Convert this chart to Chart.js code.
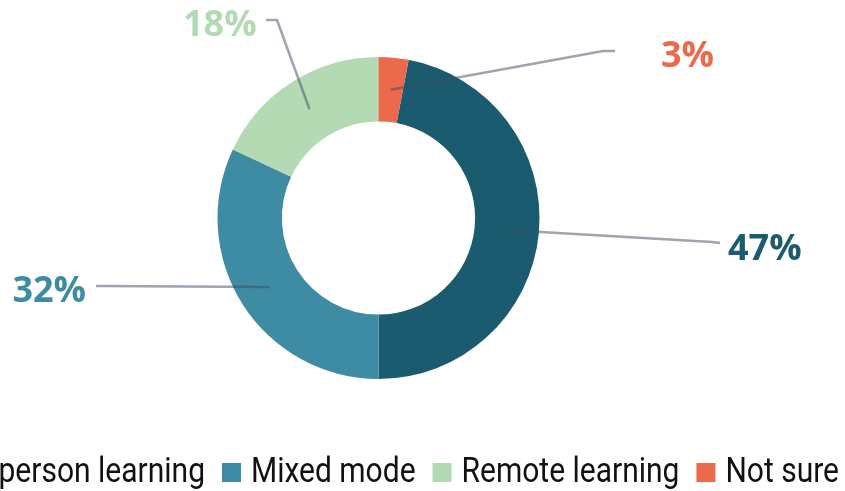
<!DOCTYPE html>
<html>
<head>
<meta charset="utf-8">
<script src="https://cdn.jsdelivr.net/npm/chart.js@4"></script>
<style>
  html, body { margin: 0; padding: 0; background: #ffffff; }
  #wrap { width: 845px; height: 491px; position: relative; }
</style>
</head>
<body>
<div id="wrap"><canvas id="c" width="845" height="491"></canvas></div>
<script>
// ---- data ----
const categories = ['In-person learning', 'Mixed mode', 'Remote learning', 'Not sure'];
const shares = [47, 32, 18, 3];
const labelTexts = ['47%', '32%', '18%', '3%'];

// ---- styles ----
const sliceColors = ['#1b5b70', '#3e8ba4', '#b3dab3', '#ec6a4c'];
// connector elbow/end points and text anchors, relative to canvas (layout only)
const labelLayout = [
  { elbow: [712, 242], end: [720, 243], text: [728, 260], align: 'left' },
  { elbow: [104, 286], end: [96, 286],  text: [86, 302],  align: 'right' },
  { elbow: [277, 20],  end: [266, 20],  text: [183, 36],  align: 'left' },
  { elbow: [603, 51],  end: [615, 51],  text: [661, 67],  align: 'left' }
];

const labelsPlugin = {
  id: 'outLabels',
  afterDatasetsDraw(chart) {
    const ctx = chart.ctx;
    const meta = chart.getDatasetMeta(0);
    meta.data.forEach((arc, i) => {
      const p = arc.tooltipPosition();
      const lay = labelLayout[i];
      ctx.save();
      ctx.strokeStyle = 'rgba(60,75,95,0.5)';
      ctx.lineWidth = 2.5;
      ctx.beginPath();
      ctx.moveTo(p.x, p.y);
      ctx.lineTo(lay.elbow[0], lay.elbow[1]);
      ctx.lineTo(lay.end[0], lay.end[1]);
      ctx.stroke();
      ctx.fillStyle = sliceColors[i];
      ctx.font = 'bold 36px "Open Sans"';
      ctx.textAlign = lay.align;
      ctx.textBaseline = 'alphabetic';
      ctx.fillText(labelTexts[i], lay.text[0], lay.text[1]);
      ctx.restore();
    });
  },
  afterDraw(chart) {
    // bottom legend, single row, right end at x=838 (overflows left edge as in reference)
    const ctx = chart.ctx;
    ctx.save();
    const sx = 0.857; // condensed look
    ctx.font = '35px Roboto';
    ctx.textBaseline = 'alphabetic';
    ctx.textAlign = 'left';
    const box = 19, gapBox = 10, gapItem = 17;
    const widths = categories.map(t => ctx.measureText(t).width * sx);
    let total = 0;
    widths.forEach((w, i) => { total += box + gapBox + w + (i < widths.length - 1 ? gapItem : 0); });
    let x = 839 - total;
    categories.forEach((t, i) => {
      ctx.fillStyle = sliceColors[i];
      ctx.fillRect(x, 463, box, box);
      x += box + gapBox;
      ctx.fillStyle = '#111111';
      ctx.save();
      ctx.translate(x, 482);
      ctx.scale(sx, 1);
      ctx.fillText(t, 0, 0);
      ctx.restore();
      x += widths[i] + gapItem;
    });
    ctx.restore();
  }
};

new Chart(document.getElementById('c'), {
  type: 'doughnut',
  data: {
    labels: categories,
    datasets: [{
      data: shares,
      backgroundColor: sliceColors,
      borderWidth: 0
    }]
  },
  options: {
    responsive: false,
    animation: false,
    rotation: 10.8,
    cutout: '60%',
    layout: { padding: { top: 57, bottom: 112, left: 217, right: 305 } },
    plugins: {
      legend: { display: false },
      tooltip: { enabled: false }
    }
  },
  plugins: [labelsPlugin]
});
</script>
</body>
</html>
